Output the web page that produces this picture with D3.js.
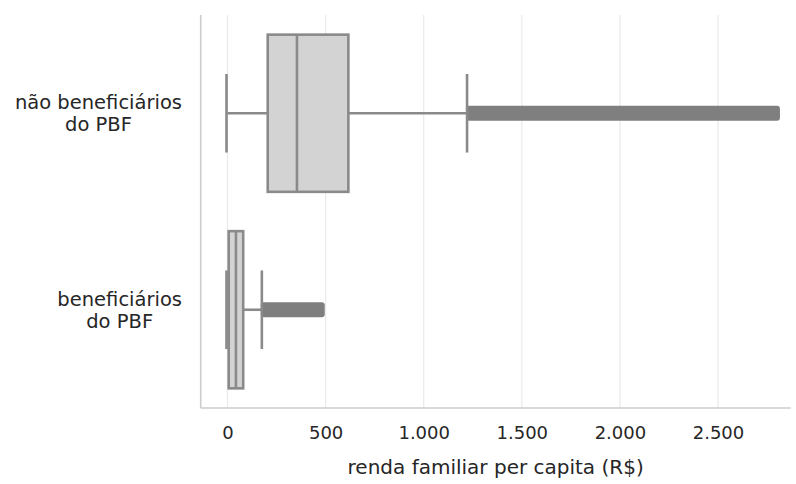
<!DOCTYPE html>
<html><head><meta charset="utf-8">
<script src="https://cdn.jsdelivr.net/npm/d3@7"></script>
<style>body{margin:0;background:#fff}svg{display:block;font-family:"DejaVu Sans",sans-serif}</style>
</head><body><svg id="c" width="796" height="484"></svg>
<script>
// categories (top to bottom) and their label lines
const categories = ["não beneficiários do PBF", "beneficiários do PBF"];
const categoryLines = [["não beneficiários", "do PBF"], ["beneficiários", "do PBF"]];
// box statistics (R$)
const whiskerLow  = [0, 0];
const q1          = [205, 6];
const median      = [354, 43];
const q3          = [616, 80];
const whiskerHigh = [1221, 175];
// outlier extents (dense band of fliers)
const flierMin = [1221, 175];
const flierMax = [2780, 460];
// x ticks
const xTicks = [0, 500, 1000, 1500, 2000, 2500];
const xTickLabels = ["0", "500", "1.000", "1.500", "2.000", "2.500"];
const xLabel = "renda familiar per capita (R$)";

const svg = d3.select("#c");
const L = 200.7, R = 790.6, T = 15, B = 408;
const x = d3.scaleLinear().domain([-136.6, 2870]).range([L, R]);
const y = d3.scaleBand().domain(categories).range([T, B]).paddingInner(0).paddingOuter(0);
const bw = y.bandwidth() * 0.8;
const textColor = "#262626", edge = "#8a8a8a", fill = "#d3d3d3", flierColor = "#7f7f7f";

// grid
svg.append("g").selectAll("line").data(xTicks).join("line")
  .attr("x1", d => x(d)).attr("x2", d => x(d)).attr("y1", T).attr("y2", B)
  .attr("stroke", "#ebebeb").attr("stroke-width", 1.3);

// x axis
const xAxis = d3.axisBottom(x).tickValues(xTicks).tickSize(0).tickPadding(18)
  .tickFormat((d, i) => xTickLabels[i]);
const gx = svg.append("g").attr("transform", `translate(0,${B})`).call(xAxis);
gx.select(".domain").remove();
gx.selectAll("text").attr("fill", textColor).attr("font-size", 18).attr("font-family", "DejaVu Sans");

// y axis labels (right-aligned block, lines centered)
const gy = svg.append("g");
categories.forEach((c, i) => {
  const cy = y(c) + y.bandwidth() / 2;
  const lines = categoryLines[i];
  const t = gy.append("text").attr("fill", textColor).attr("font-size", 19.5)
    .attr("text-anchor", "middle");
  lines.forEach((ln, k) => {
    t.append("tspan").attr("x", 0).attr("y", cy + (k - (lines.length - 1) / 2) * 22)
      .attr("dy", "0.35em").text(ln);
  });
  const w = t.node().getBBox().width;
  t.attr("transform", `translate(${182 - w / 2},0)`);
});

// spines
svg.append("line").attr("x1", L).attr("x2", L).attr("y1", T).attr("y2", B)
  .attr("stroke", "#cccccc").attr("stroke-width", 1.6);
svg.append("line").attr("x1", L).attr("x2", R).attr("y1", B).attr("y2", B)
  .attr("stroke", "#cccccc").attr("stroke-width", 1.6);

// boxes
const g = svg.append("g");
categories.forEach((c, i) => {
  const cy = y(c) + y.bandwidth() / 2;
  const lw = 2.6;
  const fh = 15;
  g.append("rect").attr("x", x(flierMin[i]) - 1).attr("width", x(flierMax[i]) - x(flierMin[i]) + 8)
    .attr("y", cy - fh / 2).attr("height", fh).attr("rx", 3).attr("fill", flierColor);
  g.append("line").attr("x1", x(whiskerLow[i])).attr("x2", x(q1[i])).attr("y1", cy).attr("y2", cy)
    .attr("stroke", edge).attr("stroke-width", lw);
  g.append("line").attr("x1", x(q3[i])).attr("x2", x(whiskerHigh[i])).attr("y1", cy).attr("y2", cy)
    .attr("stroke", edge).attr("stroke-width", lw);
  [whiskerLow[i], whiskerHigh[i]].forEach(v => {
    const off = v === whiskerLow[i] ? -1 : 0;
    g.append("line").attr("x1", x(v) + off).attr("x2", x(v) + off)
      .attr("y1", cy - bw / 4).attr("y2", cy + bw / 4)
      .attr("stroke", edge).attr("stroke-width", lw);
  });
  g.append("rect").attr("x", x(q1[i])).attr("width", x(q3[i]) - x(q1[i]))
    .attr("y", cy - bw / 2).attr("height", bw)
    .attr("fill", fill).attr("stroke", edge).attr("stroke-width", lw);
  g.append("line").attr("x1", x(median[i])).attr("x2", x(median[i]))
    .attr("y1", cy - bw / 2).attr("y2", cy + bw / 2)
    .attr("stroke", edge).attr("stroke-width", lw);
});

// x label
svg.append("text").attr("x", (L + R) / 2).attr("y", 467).attr("dy", "0.35em")
  .attr("text-anchor", "middle").attr("fill", textColor).attr("font-size", 20).text(xLabel);
</script>
</body></html>
